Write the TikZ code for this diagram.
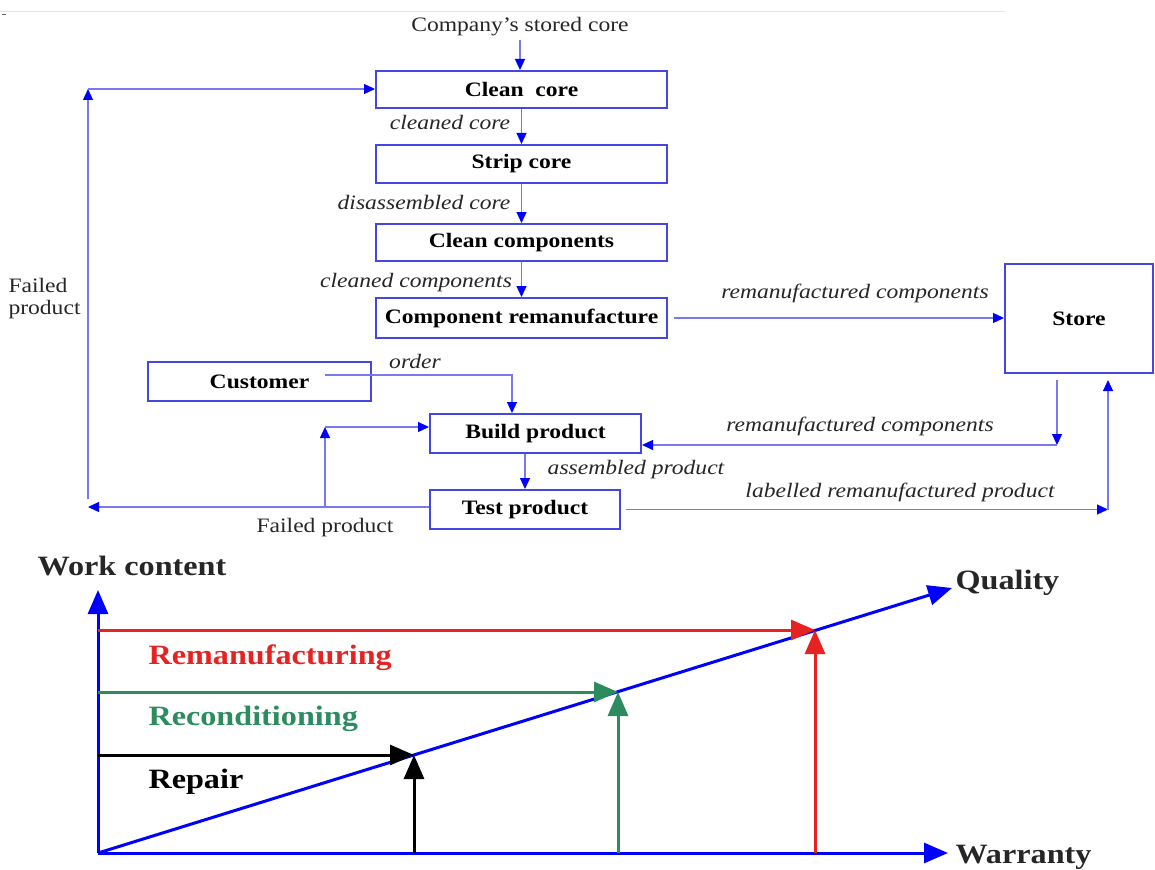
\documentclass[tikz,border=0pt]{standalone}
\usepackage{fontspec}
\setmainfont{Liberation Serif}[FakeStretch=1.15]
\usetikzlibrary{arrows.meta}
\definecolor{boxblue}{RGB}{70,70,225}
\definecolor{lineblue}{RGB}{120,120,240}
\definecolor{chartred}{RGB}{230,35,35}
\definecolor{chartgreen}{RGB}{45,140,95}
\begin{document}
\begin{tikzpicture}[x=1pt,y=-1pt,
   box/.style={draw=boxblue,line width=2pt,text=black,font=\fontsize{20.5}{22}\selectfont\bfseries},
   lab/.style={text=black!85,font=\fontsize{20.5}{22}\selectfont\itshape},
   plain/.style={text=black!85,font=\fontsize{20.5}{22}\selectfont},
   flow/.style={draw=lineblue,line width=1.2pt,-{Triangle[length=11pt,width=10pt,color=blue]}},
   ax/.style={line width=3pt,-{Triangle[length=24pt,width=20pt]}},
   big/.style={font=\fontsize{28}{30}\selectfont\bfseries}]
\useasboundingbox (0,0) rectangle (1155,869);
\draw[black!10,line width=1pt] (0,12) -- (1005,12);
\draw[black!60,line width=1pt] (2,15) -- (6,15);

% process boxes
\node[box,minimum width=291,minimum height=37] (cleancore) at (521.5,89.5) {Clean\ \ core};
\node[box,minimum width=291,minimum height=38] (strip) at (521.5,164) {Strip core};
\node[box,minimum width=291,minimum height=37] (cleancomp) at (521.5,242.5) {Clean components};
\node[box,minimum width=291,minimum height=40] (comprem) at (521.5,318) {Component remanufacture};
\node[box,minimum width=148,minimum height=109] (store) at (1079,318.5) {Store};
\node[box,minimum width=223,minimum height=39] (customer) at (259.5,381.5) {Customer};
\node[box,minimum width=211,minimum height=39] (build) at (535.5,433.5) {Build product};
\node[box,minimum width=190,minimum height=39] (test) at (525,509.5) {Test product};
\node[plain] (company) at (520,27) {Company's stored core};

% helper points
\coordinate (orderstart) at (325,375);
\coordinate (s1) at (1057,380);
\coordinate (s2) at (1057,445);
\coordinate (lr) at (1108,509.5);
\coordinate (t2) at (1108,380);
\coordinate (fl) at (88,507);
\coordinate (fb) at (325,507);
\coordinate (fc) at (325,427);
\coordinate (fd) at (88,499);
\coordinate (fu) at (88,89);

% flows
\draw[flow] (company.south) -- (company.south |- cleancore.north);
\draw[flow] (cleancore) -- (strip);
\draw[flow] (strip) -- (cleancomp);
\draw[flow] (cleancomp) -- (comprem);
\draw[flow,shorten <=6pt] (comprem.east) -- (comprem.east -| store.west);
\draw[flow] (orderstart) -| ([xshift=-23.5]build.north);
\draw[flow] (s1) -- (s2);
\draw[flow] (s2) -- (s2 -| build.east);
\draw[flow] (test.north |- build.south) -- (test.north);
\draw[flow,shorten <=5pt] (test.east) -- (lr);
\draw[flow] (lr) -- (t2);
\draw[flow] (test.west |- fl) -- (fl);
\draw[flow] (fb) -- (fc);
\draw[flow] (fc) -- (fc -| build.west);
\draw[flow] (fd) -- (fu);
\draw[flow] (fu) -- (fu -| cleancore.west);

% flow labels
\node[lab] (lcc) at (450,122) {cleaned core};
\node[lab] (ldc) at (424,202) {disassembled core};
\node[lab] (lcco) at (416,283) {cleaned components};
\node[lab] (lrc1) at (855,293) {remanufactured components};
\node[lab] (lord) at (415,361) {order};
\node[lab] (lrc2) at (860,426) {remanufactured components};
\node[lab] (lap) at (636,470) {assembled product};
\node[lab] (llr) at (900,492) {labelled remanufactured product};
\node[plain] (lfp) at (325,528) {Failed product};
\node[plain,align=left,anchor=west] (lfp2) at (5,299) {Failed\\product};

% chart
\coordinate (O) at (98,853);
\coordinate (ytop) at (98,590);
\coordinate (xend) at (948,853);
\coordinate (qend) at (952,588);
\coordinate (p1) at (414,755);
\coordinate (p2) at (618,692);
\coordinate (p3) at (815,630);
\draw[ax,blue] (O) -- (ytop);
\draw[ax,blue] (O) -- (xend);
\draw[ax,blue] (O) -- (qend);
\draw[ax,chartred] (O |- p3) -- (p3);
\draw[ax,chartred] (p3 |- O) -- (p3);
\draw[ax,chartgreen] (O |- p2) -- (p2);
\draw[ax,chartgreen] (p2 |- O) -- (p2);
\draw[ax,black] (O |- p1) -- (p1);
\draw[ax,black] (p1 |- O) -- (p1);
\node[big,text=black!85] (wc) at (132,566) {Work content};
\node[big,text=black!85,anchor=west] (qual) at (952,583) {Quality};
\node[big,text=black!85,anchor=west] (warr) at (952,857) {Warranty};
\node[big,text=chartred,anchor=west] (lrem) at (145,658) {Remanufacturing};
\node[big,text=chartgreen,anchor=west] (lrec) at (145,719) {Reconditioning};
\node[big,text=black,anchor=west] (lrep) at (145,782) {Repair};
\end{tikzpicture}
\end{document}
